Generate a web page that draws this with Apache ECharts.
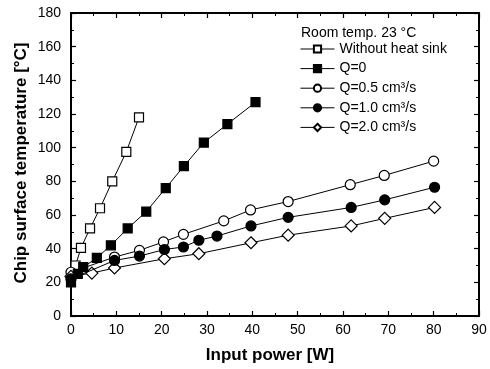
<!DOCTYPE html>
<html>
<head>
<meta charset="utf-8">
<script src="https://cdn.jsdelivr.net/npm/echarts@6/dist/echarts.min.js"></script>
<style>html,body{margin:0;padding:0;background:#fff}#c{width:490px;height:369px}</style>
</head>
<body>
<div id="c"></div>
<script>
// ---- data ----
const seriesNames = ['Without heat sink', 'Q=0', 'Q=0.5 cm³/s', 'Q=1.0 cm³/s', 'Q=2.0 cm³/s'];
const noSinkX = [0, 1, 2.2, 4.2, 6.4, 9.1, 12.2, 15.0];
const noSinkY = [24, 30, 40.5, 52, 64, 80, 97.5, 118];
const q0X = [0, 1.5, 2.7, 5.7, 8.8, 12.5, 16.6, 20.9, 24.9, 29.3, 34.5, 40.7];
const q0Y = [20, 25, 29, 34.5, 42, 52, 62, 76, 89, 103, 114, 127];
const q05X = [0, 9.6, 15.1, 20.4, 24.8, 33.7, 39.6, 47.9, 61.6, 69.1, 80.0];
const q05Y = [26, 35, 39, 44, 48.5, 56.5, 63, 68, 78, 83.5, 92];
const q10X = [0, 9.6, 15.1, 20.6, 24.8, 28.2, 32.2, 39.7, 47.9, 61.8, 69.2, 80.2];
const q10Y = [22, 33, 35.6, 39.5, 41, 45, 47.5, 53.5, 58.6, 64.5, 69, 76.5];
const q20X = [0, 4.6, 9.6, 20.6, 28.2, 39.7, 47.9, 61.8, 69.2, 80.2];
const q20Y = [23.5, 25.5, 28.5, 34, 37, 43.5, 48, 53.5, 58, 64.5];
const xTicks = [0, 10, 20, 30, 40, 50, 60, 70, 80, 90];
const yTicks = [0, 20, 40, 60, 80, 100, 120, 140, 160, 180];
const roomTemp = 'Room temp. 23 °C';
const xTitle = 'Input power [W]';
const yTitle = 'Chip surface temperature [°C]';

const FONT = '"Liberation Sans", Arial, sans-serif';
const zip = (xs, ys) => xs.map((x, i) => [x, ys[i]]);

const chart = echarts.init(document.getElementById('c'), null, {renderer: 'canvas'});

function mk(name, xs, ys, symbol, size, filled) {
  return {
    name, type: 'line', data: zip(xs, ys), xAxisIndex: 0, yAxisIndex: 0,
    symbol, symbolSize: size, showAllSymbol: true,
    lineStyle: {color: '#000', width: 1},
    itemStyle: {color: filled ? '#000' : '#fff', borderColor: '#000', borderWidth: 1.2},
    emphasis: {disabled: true}, animation: false, z: filled ? 3 : 2
  };
}

const axisCommon = {
  min: 0, axisLine: {show: true, onZero: false, lineStyle: {color: '#000', width: 2}},
  splitLine: {show: false},
  axisTick: {show: true, inside: true, length: 5, lineStyle: {color: '#000', width: 1.2}},
  minorTick: {show: true, splitNumber: 2, length: 3, lineStyle: {color: '#000', width: 1}},
};

chart.setOption({
  animation: false,
  backgroundColor: '#fff',
  grid: {left: 71, right: 11, top: 13, bottom: 53, containLabel: false},
  xAxis: [
    Object.assign({}, axisCommon, {type: 'value', position: 'bottom', max: 90, interval: 10,
      axisLabel: {show: true, margin: 7, fontSize: 14, color: '#000', fontFamily: FONT,
        formatter: v => xTicks.includes(v) ? String(v) : ''}}),
    Object.assign({}, axisCommon, {type: 'value', position: 'top', max: 90, interval: 10,
      axisLabel: {show: false}})
  ],
  yAxis: [
    Object.assign({}, axisCommon, {type: 'value', position: 'left', max: 180, interval: 20,
      axisLabel: {show: true, margin: 10, fontSize: 14, color: '#000', fontFamily: FONT,
        formatter: v => yTicks.includes(v) ? String(v) : ''}}),
    Object.assign({}, axisCommon, {type: 'value', position: 'right', max: 180, interval: 20,
      axisLabel: {show: false}})
  ],
  legend: {
    data: seriesNames, orient: 'vertical', left: 300, top: 42,
    itemWidth: 34, itemHeight: 9, itemGap: 5.6, padding: 0,
    lineStyle: {width: 1, color: '#000'},
    textStyle: {fontSize: 14, color: '#000', fontFamily: FONT, lineHeight: 14},
    selectedMode: false
  },
  graphic: [
    {type: 'text', left: 301, top: 26, style: {text: roomTemp, font: '14px ' + FONT, fill: '#000'}},
    {type: 'text', x: 270, y: 355, style: {text: xTitle, font: 'bold 17px ' + FONT, fill: '#000', align: 'center', verticalAlign: 'middle'}},
    {type: 'text', x: 21, y: 163, rotation: Math.PI / 2, style: {text: yTitle, font: 'bold 17px ' + FONT, fill: '#000', align: 'center', verticalAlign: 'middle'}}
  ],
  series: [
    mk(seriesNames[0], noSinkX, noSinkY, 'rect', 9, false),
    mk(seriesNames[1], q0X, q0Y, 'rect', 9, true),
    mk(seriesNames[2], q05X, q05Y, 'circle', 10, false),
    mk(seriesNames[3], q10X, q10Y, 'circle', 10, true),
    mk(seriesNames[4], q20X, q20Y, 'diamond', [12, 12], false)
  ]
});
</script>
</body>
</html>
